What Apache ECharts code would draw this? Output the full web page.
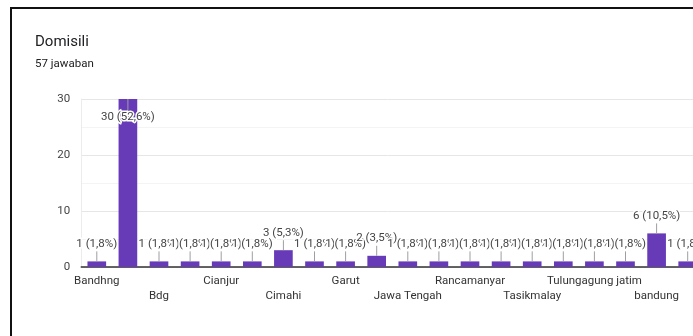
<!DOCTYPE html>
<html>
<head>
<meta charset="utf-8">
<script src="https://cdn.jsdelivr.net/npm/echarts@6/dist/echarts.min.js"></script>
<style>
  html, body { margin: 0; padding: 0; background: #fff; }
  #chart { width: 693px; height: 336px; }
</style>
</head>
<body>
<div id="chart"></div>
<script>
// jawaban per domisili (urut seperti di Google Forms)
const categories = ['Bandhng', 'Bandung', 'Bdg', 'Bekasi', 'Cianjur', 'Cileunyi', 'Cimahi', 'Depok',
  'Garut', 'Jakarta', 'Jawa Tengah', 'Lembang', 'Rancamanyar', 'Soreang', 'Tasikmalay',
  'Tasikmalaya', 'Tulungagung jatim', 'Yogyakarta', 'bandung', 'cimahi'];
const counts = [1, 30, 1, 1, 1, 1, 3, 1, 1, 2, 1, 1, 1, 1, 1, 1, 1, 1, 6, 1];
const totalResponses = 57;
const yMax = 30;
const yStep = 10;

const font = 'Roboto, Arial, sans-serif';
const chart = echarts.init(document.getElementById('chart'));

function pctLabel(v) {
  return v + ' (' + (v / totalResponses * 100).toFixed(1).replace('.', ',') + '%)';
}

// label kategori dua baris: baris 1 = indeks 0,4,8..., baris 2 = indeks 2,6,10...
function labelAxis(row, showLine) {
  return {
    type: 'category',
    data: categories,
    position: 'bottom',
    axisLine: { show: showLine, lineStyle: { color: '#333', width: 1.5 } },
    axisTick: { show: false },
    splitLine: { show: false },
    axisLabel: {
      interval: function (index) { return index % 4 === row * 2; },
      hideOverlap: false,
      margin: 8 + row * 15,
      color: '#333',
      fontFamily: font,
      fontSize: 11.5
    }
  };
}

chart.setOption({
  backgroundColor: '#fff',
  animation: false,
  title: {
    text: 'Domisili',
    subtext: totalResponses + ' jawaban',
    left: 30,
    top: 30,
    itemGap: 8,
    textStyle: { fontFamily: font, fontSize: 15, fontWeight: 'normal', color: '#202124' },
    subtextStyle: { fontFamily: font, fontSize: 11.5, color: '#202124' }
  },
  graphic: [{
    // bingkai hitam
    type: 'rect',
    shape: { x: 11, y: 8, width: 720, height: 360 },
    style: { fill: 'none', stroke: '#111', lineWidth: 2 },
    silent: true
  }],
  grid: { left: 81.25, right: -10.25, top: 99, bottom: 69, outerBoundsMode: 'none' },
  xAxis: [labelAxis(0, true), labelAxis(1, false)],
  yAxis: {
    type: 'value',
    min: 0,
    max: yMax,
    interval: yStep,
    axisLine: { show: true, lineStyle: { color: '#ececec' } },
    axisTick: { show: false },
    axisLabel: { margin: 11, color: '#444', fontFamily: font, fontSize: 11.5 },
    splitLine: { lineStyle: { color: '#e6e6e6' } },
    minorTick: { show: false, splitNumber: 2 },
    minorSplitLine: { show: true, lineStyle: { color: '#f4f4f4' } }
  },
  series: [
    {
      type: 'bar',
      xAxisIndex: 0,
      data: counts,
      barWidth: '60%',
      itemStyle: { color: '#673ab7' }
    },
    {
      // label anotasi + garis penunjuk
      type: 'custom',
      xAxisIndex: 0,
      z: 5,
      data: counts.map((v, i) => [i, v]),
      encode: { x: 0, y: 1 },
      renderItem: function (params, api) {
        const i = api.value(0);
        const v = api.value(1);
        const p = api.coord([i, v]);
        const atTop = v >= yMax;
        const ly = atTop ? p[1] + 18 : p[1] - 17.5;
        const l1 = atTop ? p[1] : p[1] - 10;
        const l2 = atTop ? p[1] + 12 : p[1];
        return {
          type: 'group',
          children: [
            {
              type: 'line',
              shape: { x1: p[0], y1: l1, x2: p[0], y2: l2 },
              style: { stroke: '#9e9e9e', lineWidth: 1 }
            },
            {
              type: 'text',
              x: p[0],
              y: ly,
              style: {
                text: pctLabel(v),
                fill: '#444',
                stroke: '#fff',
                lineWidth: 3,
                font: '11.5px ' + font,
                align: 'center',
                verticalAlign: 'middle'
              }
            }
          ]
        };
      }
    }
  ]
});
</script>
</body>
</html>
